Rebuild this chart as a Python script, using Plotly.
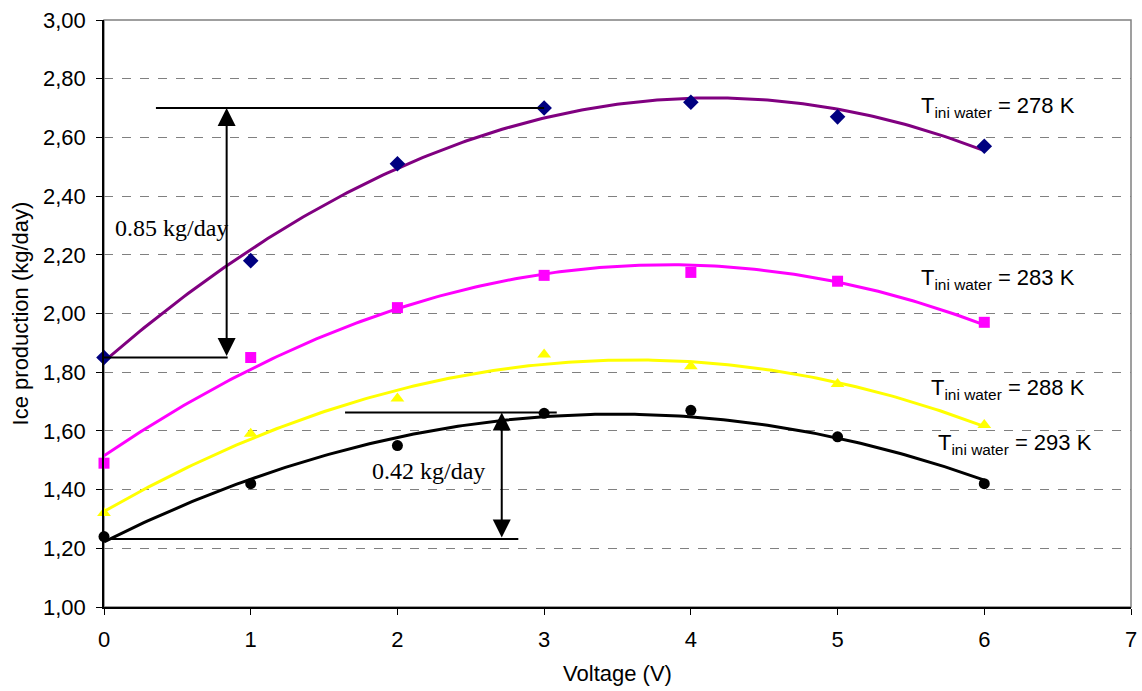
import numpy as np
import plotly.graph_objects as go

voltage = [0, 1, 2, 3, 4, 5, 6]
ice_278 = [1.85, 2.18, 2.51, 2.70, 2.72, 2.67, 2.57]
ice_283 = [1.49, 1.85, 2.02, 2.13, 2.14, 2.11, 1.97]
ice_288 = [1.32, 1.59, 1.71, 1.86, 1.82, 1.76, 1.62]
ice_293 = [1.24, 1.42, 1.55, 1.66, 1.67, 1.58, 1.42]
labels = ["278 K", "283 K", "288 K", "293 K"]

series = [
    (ice_278, "#000080", "#800080", "diamond", 12),
    (ice_283, "#FF00FF", "#FF00FF", "square", 11),
    (ice_288, "#FFFF00", "#FFFF00", "triangle-up", 12),
    (ice_293, "#000000", "#000000", "circle", 11),
]

fig = go.Figure()
xs = np.linspace(0, 6, 200)
for vals, mcol, lcol, sym, sz in series:
    c = np.polyfit(voltage, vals, 2)
    fig.add_trace(go.Scatter(x=xs, y=np.polyval(c, xs), mode="lines",
                             line=dict(color=lcol, width=3), showlegend=False,
                             hoverinfo="skip", cliponaxis=False))
for vals, mcol, lcol, sym, sz in series:
    fig.add_trace(go.Scatter(x=voltage, y=vals, mode="markers",
                             marker=dict(color=mcol, symbol=sym, size=sz),
                             showlegend=False, cliponaxis=False))

# border (top/right gray)
fig.add_shape(type="rect", xref="paper", yref="paper", x0=0, x1=1, y0=0, y1=1,
              line=dict(color="#808080", width=1.5), layer="below")

# annotation lines
hlines = [(0.354, 3.0, 2.70), (0.0, 0.843, 1.85), (1.643, 3.086, 1.663), (0.0, 2.824, 1.232)]
for x0, x1, yv in hlines:
    fig.add_shape(type="line", x0=x0, x1=x1, y0=yv, y1=yv, line=dict(color="black", width=2))

arrows = [(0.836, 1.85, 2.70), (2.711, 1.232, 1.663)]
for xa, y0, y1 in arrows:
    fig.add_annotation(x=xa, y=y1, ax=xa, ay=y0, axref="x", ayref="y", xref="x", yref="y",
                       showarrow=True, arrowhead=2, startarrowhead=2, arrowside="end+start",
                       arrowsize=1.8, startarrowsize=1.8, arrowwidth=2, arrowcolor="black", text="")

fig.add_annotation(x=0.458, y=2.291, text="0.85 kg/day", showarrow=False,
                   font=dict(family="Liberation Serif", size=24, color="black"))
fig.add_annotation(x=2.21, y=1.464, text="0.42 kg/day", showarrow=False,
                   font=dict(family="Liberation Serif", size=24, color="black"))

label_pos = [(998, 107), (998, 279), (1008, 389), (1015, 444)]
for lab, (px, py) in zip(labels, label_pos):
    fig.add_annotation(x=(px - 104) / 1027 * 7, y=3 - (py - 20) / 293.4,
                       text="T<sub>ini water</sub> = " + lab, showarrow=False,
                       font=dict(family="Liberation Sans", size=22, color="black"))

fig.update_layout(
    width=1142, height=691,
    margin=dict(l=104, r=11, t=20, b=84, autoexpand=False),
    paper_bgcolor="white", plot_bgcolor="white",
    separators=", ",
    font=dict(family="Liberation Sans", size=22, color="black"),
    xaxis=dict(range=[0, 7], dtick=1, tick0=0, showgrid=False, showline=True,
               linecolor="black", linewidth=1.5, ticks="outside", ticklen=6,
               tickcolor="black", zeroline=False, automargin=False,
               ticklabelstandoff=6,
               title=dict(text="Voltage (V)", font=dict(size=22), standoff=14)),
    yaxis=dict(range=[1, 3], dtick=0.2, tick0=1, tickformat=".2f", showgrid=True,
               gridcolor="#808080", griddash="dash", gridwidth=1,
               showline=True, linecolor="black", linewidth=1.5, ticks="outside",
               ticklen=6, tickcolor="black", zeroline=False, automargin=False,
               ticklabelstandoff=6,
               title=dict(text="Ice production (kg/day)", font=dict(size=22), standoff=8)),
)

fig.write_html("out.html")
